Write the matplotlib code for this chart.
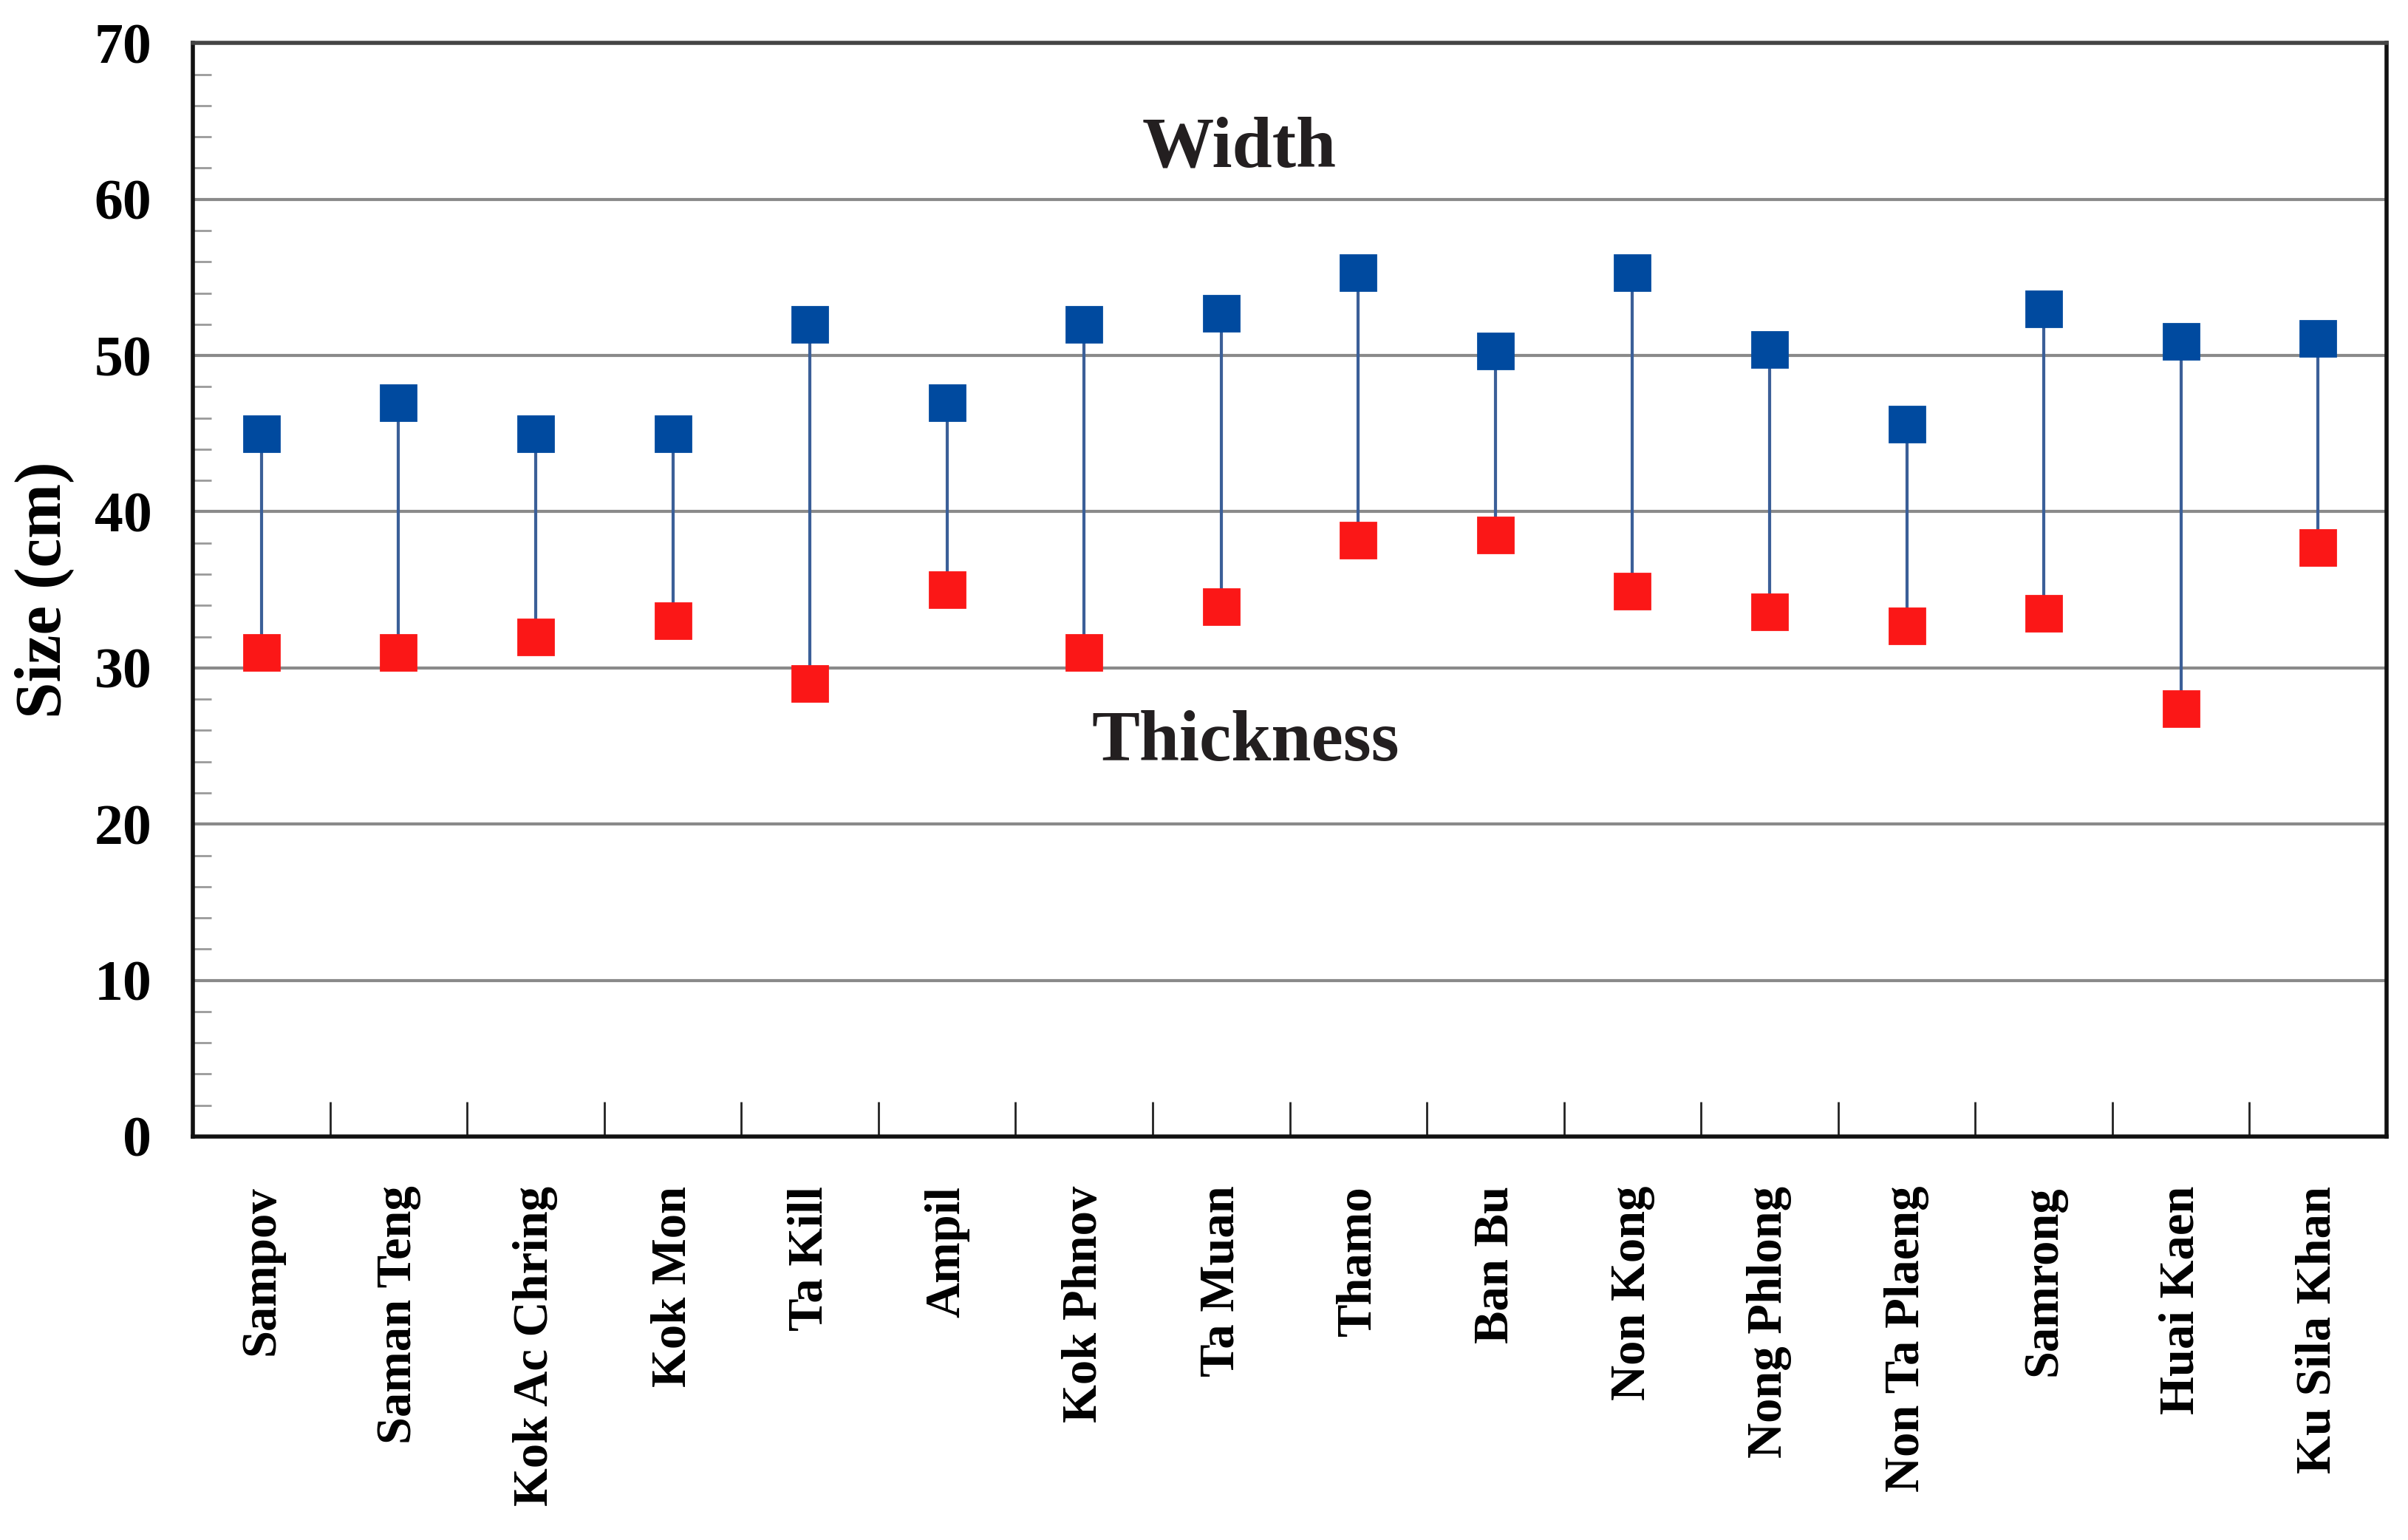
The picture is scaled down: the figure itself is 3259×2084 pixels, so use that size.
import matplotlib
matplotlib.use("Agg")
import matplotlib.pyplot as plt
from matplotlib.ticker import FixedLocator

sites = ["Sampov", "Saman Teng", "Kok Ac Chring", "Kok Mon", "Ta Kill", "Ampil",
         "Kok Phnov", "Ta Muan", "Thamo", "Ban Bu", "Non Kong", "Nong Phlong",
         "Non Ta Plaeng", "Samrong", "Huai Kaen", "Ku Sila Khan"]
width = [45, 47, 45, 45, 52, 47, 52, 52.7, 55.3, 50.3, 55.3, 50.4, 45.6, 53.0, 50.9, 51.1]
thickness = [31, 31, 32, 33, 29, 35, 31, 33.9, 38.2, 38.5, 34.9, 33.6, 32.7, 33.5, 27.4, 37.7]
y_ticks = [0, 10, 20, 30, 40, 50, 60, 70]

plt.rcParams['font.family'] = ['Liberation Serif', 'DejaVu Serif']
plt.rcParams['font.weight'] = 'bold'

fig = plt.figure(figsize=(16.295, 10.42), dpi=200)
ax = fig.add_axes([0.0801, 0.262, 0.911, 0.710])

x = list(range(len(sites)))

# grid lines
for v in y_ticks[1:-1]:
    ax.axhline(v, color='#8a8a8a', lw=1.5, zorder=1)

# connecting lines
ax.vlines(x, thickness, width, color='#3b5f98', lw=1.5, zorder=2)
ax.plot(x, width, 's', color='#004a9f', ms=17, zorder=3, mec='#004a9f')
ax.plot(x, thickness, 's', color='#fb1717', ms=17, zorder=3, mec='#fb1717')

ax.set_xlim(-0.5, len(sites) - 0.5)
ax.set_ylim(0, 70)

ax.set_yticks(y_ticks)
ax.set_yticklabels([str(v) for v in y_ticks], fontsize=28, fontweight='bold')
ax.yaxis.set_minor_locator(FixedLocator([v for v in range(2, 70, 2) if v % 10 != 0]))
ax.tick_params(axis='y', which='major', length=0, pad=20)
ax.tick_params(axis='y', which='minor', direction='in', length=9, width=1, color='#9a9a9a')

ax.set_xticks(x)
ax.set_xticklabels(sites, rotation=90, fontsize=24, fontweight='bold', va='top', ha='center')
ax.xaxis.set_minor_locator(FixedLocator([i + 0.5 for i in x[:-1]]))
ax.tick_params(axis='x', which='major', length=0, pad=24)
ax.tick_params(axis='x', which='minor', direction='in', length=17, width=1, color='#222222')

for side in ['left', 'right', 'bottom']:
    ax.spines[side].set_color('#111111')
    ax.spines[side].set_linewidth(2)
ax.spines['top'].set_color('#444444')
ax.spines['top'].set_linewidth(2)

ax.set_ylabel("Size (cm)", fontsize=32, fontweight='bold', va='center')
ax.yaxis.set_label_coords(-0.068, 0.5)

ax.text(0.477, 63.2, "Width", transform=ax.get_yaxis_transform(), ha='center', va='center',
        fontsize=35, fontweight='bold', color='#231f20')
ax.text(0.480, 25.2, "Thickness", transform=ax.get_yaxis_transform(), ha='center', va='center',
        fontsize=35, fontweight='bold', color='#231f20')

fig.savefig("out.png", dpi=200, facecolor='white')
